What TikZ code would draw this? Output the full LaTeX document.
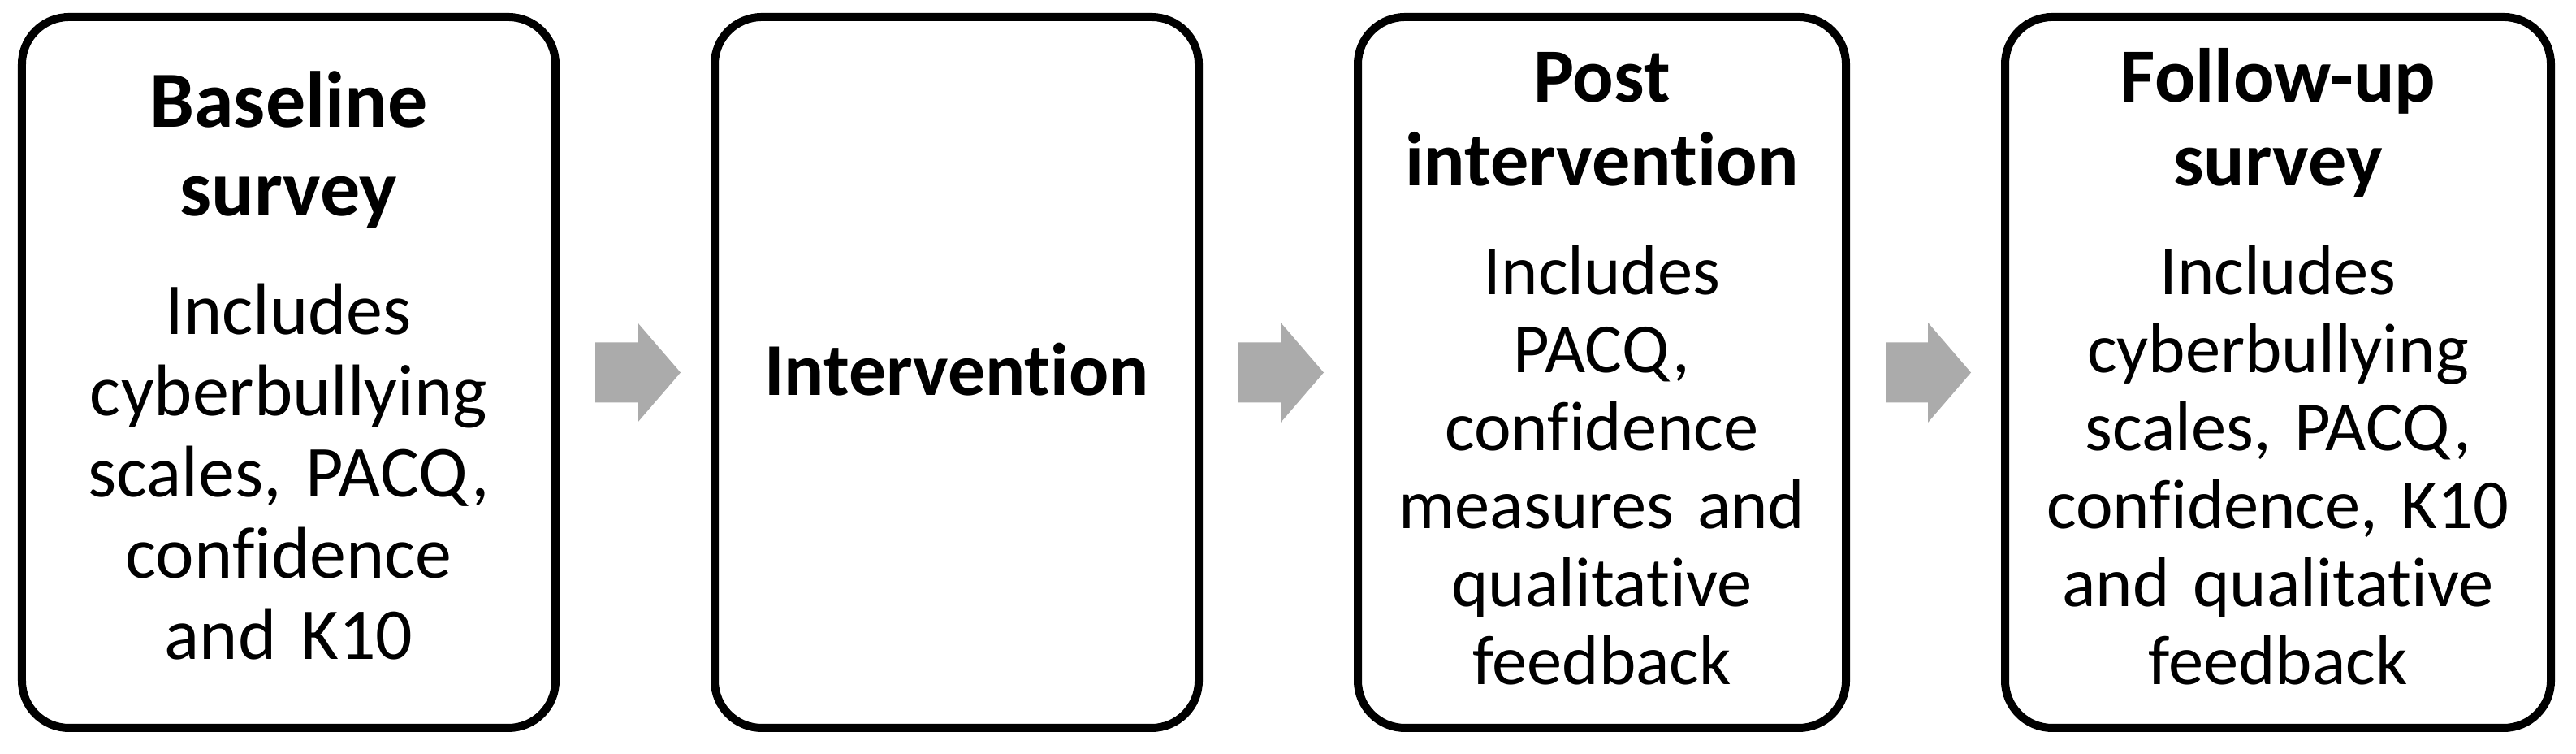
\documentclass[tikz,border=0pt]{standalone}
\usepackage{fontspec}
\setmainfont{Carlito}[Ligatures=CommonOff]
\usepackage{tikz}
\usetikzlibrary{calc,positioning}

\definecolor{arrowgray}{RGB}{171,171,171}
\newcommand{\topstrut}{\rule{0pt}{20.9pt}}
\newcommand{\botstrut}{\rule[-6.4pt]{0pt}{6.4pt}}
\newcommand{\stagetitle}[2]{{\fontsize{#1}{28.5}\selectfont\bfseries #2}}

\begin{document}
\begin{tikzpicture}
\tikzset{stage/.style={draw,line width=0.1cm,rounded corners=0.58cm,minimum height=8.75cm,inner sep=0pt,outer sep=0pt,align=center}}

\useasboundingbox (0,0) rectangle (31.72,9.28);

\node[stage,minimum width=6.57cm,text width=6.3cm,font=\fontsize{25.6}{28.5}\selectfont] (base) at (3.555,4.695)
{\stagetitle{27.9}{\topstrut Baseline\\[2.6pt]survey}\\[13pt]Includes\\cyberbullying\\scales, PACQ,\\confidence\\and K10\botstrut};

\node[stage,minimum width=5.96cm,text width=5.7cm,font=\fontsize{25.6}{28.5}\selectfont,right=1.96cm of base] (intv)
{\stagetitle{26.1}{Intervention}\rule[-2.5pt]{0pt}{2.5pt}};

\node[stage,minimum width=6.01cm,text width=5.8cm,font=\fontsize{24.6}{27.3}\selectfont,right=1.96cm of intv] (post)
{\stagetitle{26.8}{\topstrut Post\\[2pt]intervention}\\[11pt]Includes\\PACQ,\\confidence\\measures and\\qualitative\\feedback\botstrut};

\node[stage,minimum width=6.72cm,text width=6.5cm,font=\fontsize{24.6}{27.3}\selectfont,right=1.96cm of post] (follow)
{\stagetitle{26.8}{\topstrut Follow-up\\[2pt]survey}\\[11pt]Includes\\cyberbullying\\scales, PACQ,\\confidence, K10\\and qualitative\\feedback\botstrut};

% grey block arrows between the stages
\foreach \from/\to in {base/intv,intv/post,post/follow}
  \fill[arrowgray] ($(\from.east)+(0.49,0.37)$) -- ++(0.52,0) -- ++(0,0.245) -- ($(\to.west)+(-0.42,0)$)
    -- ($(\from.east)+(1.01,-0.615)$) -- ++(0,0.245) -- ++(-0.52,0) -- cycle;

\end{tikzpicture}
\end{document}
